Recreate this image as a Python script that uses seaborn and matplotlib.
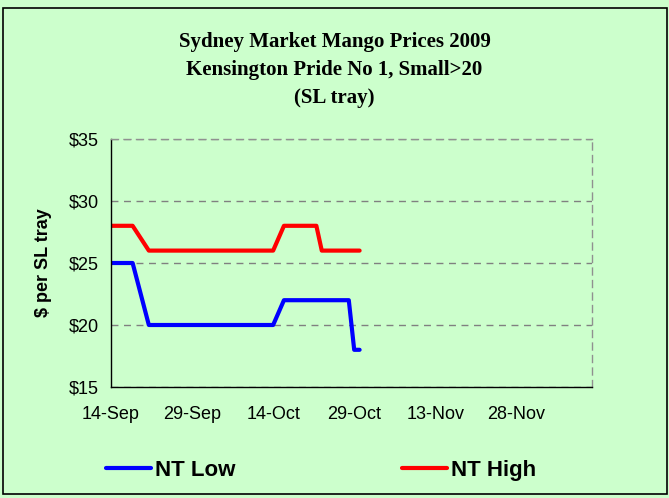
import pandas as pd
import matplotlib
matplotlib.use("Agg")
import matplotlib.pyplot as plt
import matplotlib.dates as mdates
from matplotlib.patches import Rectangle
import seaborn as sns

dates = ["2009-09-14", "2009-09-18", "2009-09-21", "2009-09-28", "2009-10-05",
         "2009-10-14", "2009-10-16", "2009-10-22", "2009-10-23", "2009-10-28",
         "2009-10-29", "2009-10-30"]
nt_low = [25, 25, 20, 20, 20, 20, 22, 22, 22, 22, 18, 18]
nt_high = [28, 28, 26, 26, 26, 26, 28, 28, 26, 26, 26, 26]

series_names = ["NT Low", "NT High"]
series_colors = ["#0000FF", "#FF0000"]
tick_dates = ["2009-09-14", "2009-09-29", "2009-10-14", "2009-10-29",
              "2009-11-13", "2009-11-28"]
x_range = ["2009-09-14", "2009-12-12"]
y_ticks = [15, 20, 25, 30, 35]

title = "Sydney Market Mango Prices 2009\nKensington Pride No 1, Small>20\n(SL tray)"
bg = "#CCFFCC"

df = pd.DataFrame({"date": pd.to_datetime(dates), "NT Low": nt_low, "NT High": nt_high})
long = df.melt(id_vars="date", var_name="series", value_name="price")

sns.set_style("white")
plt.rcParams["font.family"] = ["Liberation Sans", "DejaVu Sans"]
plt.rcParams["text.color"] = "black"
plt.rcParams["axes.labelcolor"] = "black"
plt.rcParams["xtick.color"] = "black"
plt.rcParams["ytick.color"] = "black"

fig = plt.figure(figsize=(6.69, 4.98), dpi=100, facecolor=bg)
ax = fig.add_axes([111 / 669, 1 - 387 / 498, (592 - 111) / 669, (387 - 139) / 498])
ax.set_facecolor(bg)

sns.lineplot(data=long, x="date", y="price", hue="series", hue_order=series_names,
             palette=series_colors, linewidth=3, ax=ax, legend=False)

ax.set_xlim(pd.to_datetime(x_range[0]), pd.to_datetime(x_range[1]))
ax.set_ylim(y_ticks[0], y_ticks[-1])
ax.set_yticks(y_ticks)
ax.set_yticklabels([f"${v}" for v in y_ticks])
ax.set_xticks(pd.to_datetime(tick_dates))
ax.xaxis.set_major_formatter(mdates.DateFormatter("%d-%b"))
ax.tick_params(axis="both", direction="out", length=5, width=1, color="black",
               labelcolor="black", labelsize=13, pad=4)
ax.tick_params(axis="x", pad=9)
ax.set_xlabel("")
ax.set_ylabel("$ per SL tray", fontsize=13, fontweight="bold", labelpad=12,
              color="black")

ax.grid(axis="y", color="#808080", linestyle=(0, (5, 4)), linewidth=1)
for side in ["top", "right"]:
    ax.spines[side].set_color("#909090")
    ax.spines[side].set_linestyle((0, (5, 4)))
    ax.spines[side].set_linewidth(1)
for side in ["left", "bottom"]:
    ax.spines[side].set_color("black")
    ax.spines[side].set_linewidth(1)

fig.text(0.5, 1 - 70 / 498, title, ha="center", va="center", fontsize=15,
         fontweight="bold", family=["Liberation Serif", "DejaVu Serif"],
         linespacing=1.5, color="black")

handles = [plt.Line2D([], [], color=c, linewidth=3) for c in series_colors]
fig.legend(handles, series_names, loc="center", bbox_to_anchor=(0.48, 1 - 470 / 498),
           ncol=2, frameon=False, handlelength=2, handletextpad=0.2,
           columnspacing=7.5, prop={"weight": "bold", "size": 16})

fig.patches.append(Rectangle((3 / 669, 4 / 498), 664 / 669, 486 / 498,
                             transform=fig.transFigure, fill=False,
                             edgecolor="black", linewidth=1.2))

fig.savefig("out.png", dpi=100, facecolor=bg)
